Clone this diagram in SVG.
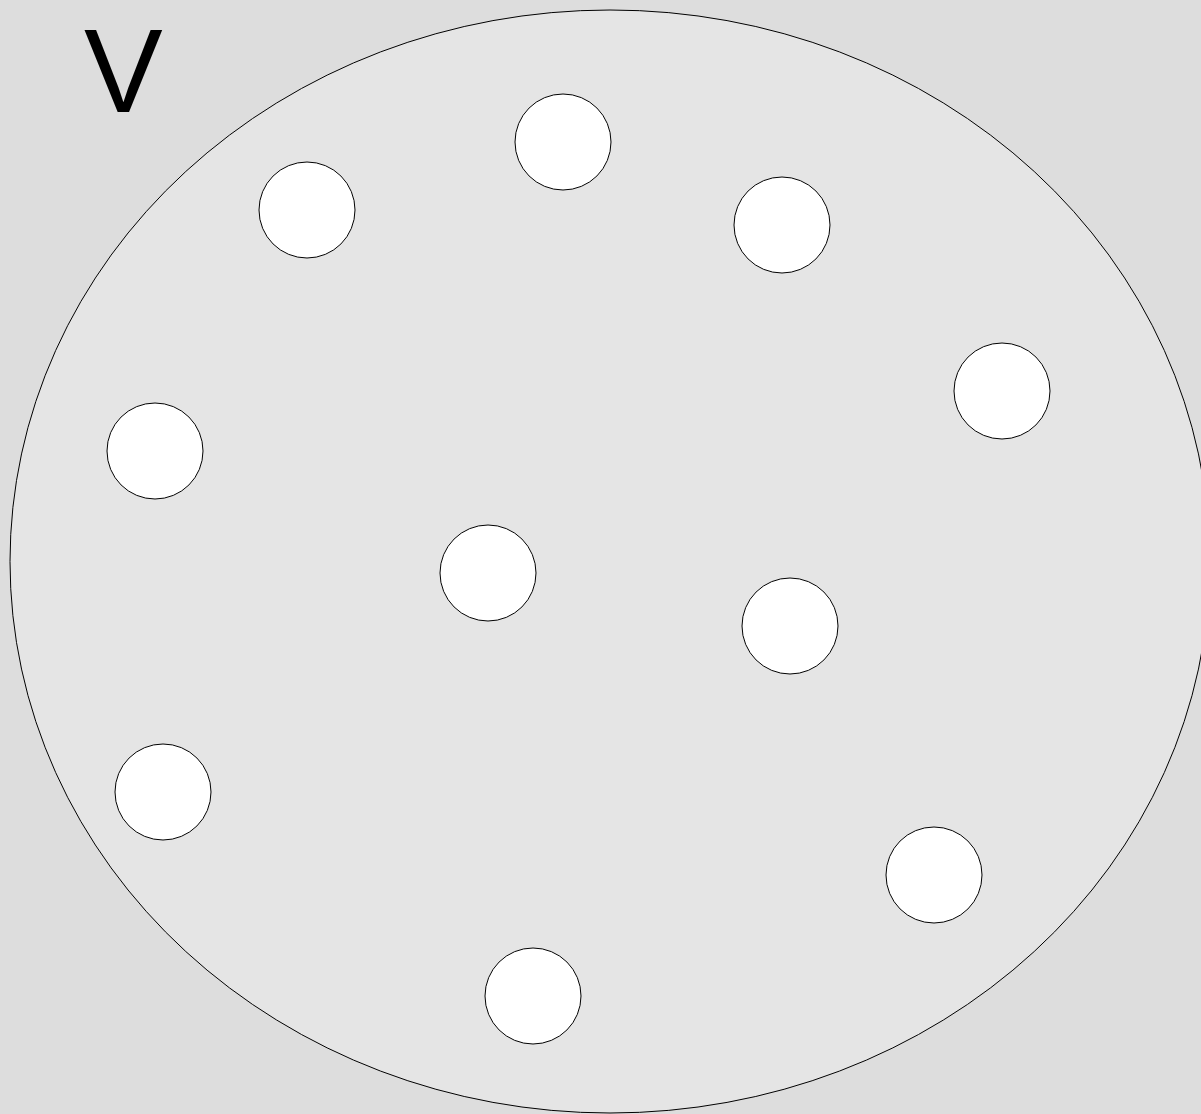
<svg xmlns="http://www.w3.org/2000/svg" width="1201" height="1114" viewBox="0 0 1201 1114">
<style>
.node{fill:#ffffff;stroke:#000000;stroke-width:1}
.set{fill:#e5e5e5;stroke:#000000;stroke-width:1}
.lbl{font-family:"Liberation Sans",Arial,sans-serif;font-size:118px;fill:#000000}
</style>
<rect x="0" y="0" width="1201" height="1114" fill="#dddddd"/>
<g id="set-V">
<ellipse class="set" cx="610" cy="561.5" rx="600" ry="551.5"/>
<text class="lbl" x="84" y="112">V</text>
</g>
<g id="connectors"></g>
<g id="n1"><circle class="node" cx="307" cy="210" r="48"/></g>
<g id="n2"><circle class="node" cx="563" cy="142" r="48"/></g>
<g id="n3"><circle class="node" cx="782" cy="225" r="48"/></g>
<g id="n4"><circle class="node" cx="1002" cy="391" r="48"/></g>
<g id="n5"><circle class="node" cx="155" cy="451" r="48"/></g>
<g id="n6"><circle class="node" cx="488" cy="573" r="48"/></g>
<g id="n7"><circle class="node" cx="790" cy="626" r="48"/></g>
<g id="n8"><circle class="node" cx="163" cy="792" r="48"/></g>
<g id="n9"><circle class="node" cx="934" cy="875" r="48"/></g>
<g id="n10"><circle class="node" cx="533" cy="996" r="48"/></g>
</svg>
